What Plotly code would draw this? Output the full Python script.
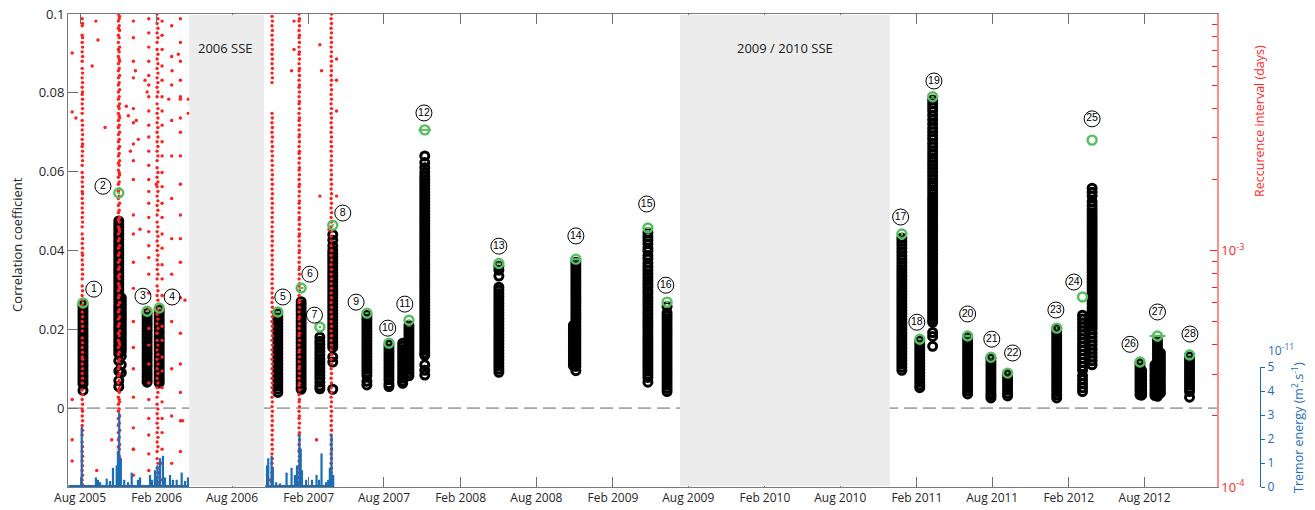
import pandas as pd
import plotly.graph_objects as go

# ---------------- DATA ----------------
# correlation clusters (black circles); values in units of 1e-3
cluster_dates = ["2005-08-08", "2005-11-02", "2005-11-08", "2006-01-09", "2006-02-07", "2006-11-19",
                 "2007-01-14", "2007-02-28", "2007-03-31", "2007-06-21", "2007-08-13", "2007-09-30",
                 "2007-09-15", "2007-11-07", "2008-05-03", "2008-11-04", "2008-10-29", "2009-04-26",
                 "2009-06-11", "2010-12-27", "2011-02-08", "2011-03-11", "2011-06-03", "2011-07-29",
                 "2011-09-07", "2012-01-03", "2012-03-05", "2012-03-28", "2012-07-21", "2012-07-25",
                 "2012-09-01", "2012-08-26", "2012-09-08", "2012-11-17"]
cluster_cc_milli = [
    [26.3, 25.6, 24.8, 24.1, 23.3, 22.6, 21.8, 21.1, 20.3, 19.6, 18.8, 18.1, 17.3, 16.6, 15.8, 15.1, 14.3, 13.6, 12.8, 12.1, 11.3, 10.6, 9.8, 9.1, 8.3, 7.6, 6.8, 6.1, 4.5],
    [47.5, 46.7, 45.9, 45.1, 44.3, 43.6, 42.8, 42.0, 41.2, 40.4, 39.6, 38.9, 38.1, 37.3, 36.5, 35.7, 34.9, 34.2, 33.4, 32.6, 31.8, 31.0, 30.2, 29.5, 28.7, 27.9, 27.1, 26.3, 25.5, 24.8, 24.0, 23.2, 22.4, 21.6, 20.8, 20.1, 19.3, 18.5, 17.7, 16.9, 16.1, 15.4, 14.6, 13.8, 12.0, 9.4, 7.0, 5.5],
    [28.0, 27.2, 26.4, 25.6, 24.8, 24.0, 23.2, 22.4, 21.6, 20.8, 20.0, 19.2, 18.4, 17.6, 16.8, 16.0, 15.2, 14.4, 13.2, 11.0, 9.0],
    [24.0, 23.2, 22.5, 21.7, 21.0, 20.2, 19.5, 18.7, 18.0, 17.2, 16.5, 15.7, 15.0, 14.2, 13.5, 12.7, 12.0, 11.2, 10.5, 9.6, 8.8, 8.0, 7.2, 6.6],
    [25.0, 24.2, 23.5, 22.7, 22.0, 21.2, 20.5, 19.7, 19.0, 18.2, 17.5, 16.7, 16.0, 15.2, 14.5, 13.7, 13.0, 12.2, 11.5, 10.7, 10.0, 9.2, 8.5, 7.7, 7.0, 6.4],
    [24.0, 23.2, 22.4, 21.6, 20.8, 20.0, 19.2, 18.4, 17.6, 16.8, 16.0, 15.2, 14.4, 13.6, 12.8, 12.0, 11.2, 10.4, 9.6, 8.8, 8.0, 7.2, 6.4, 5.6, 4.8, 4.0],
    [27.0, 26.2, 25.4, 24.6, 23.8, 23.0, 22.2, 21.4, 20.6, 19.8, 19.0, 18.2, 17.4, 16.6, 15.8, 15.0, 14.2, 13.4, 12.6, 11.8, 11.0, 10.2, 9.4, 8.6, 7.8, 7.0, 6.2, 5.4, 4.8],
    [18.0, 17.0, 16.2, 15.3, 14.4, 13.6, 12.6, 11.8, 11.0, 10.2, 9.3, 8.4, 7.6, 6.6, 5.6, 4.9],
    [44.0, 42.6, 41.2, 40.0, 39.2, 38.4, 37.6, 36.8, 36.0, 35.2, 34.4, 33.6, 32.8, 32.0, 31.2, 30.4, 29.6, 28.8, 28.0, 27.2, 26.4, 25.6, 24.8, 24.0, 23.2, 22.4, 21.6, 20.8, 20.0, 19.2, 18.4, 17.6, 16.8, 16.0, 15.4, 13.0, 11.7, 4.8],
    [23.5, 22.7, 21.9, 21.1, 20.3, 19.5, 18.7, 17.9, 17.1, 16.3, 15.5, 14.7, 13.9, 13.1, 12.3, 11.5, 10.7, 9.9, 9.1, 8.3, 6.8, 5.9],
    [16.0, 15.2, 14.4, 13.6, 12.8, 12.0, 11.2, 10.4, 9.6, 8.8, 8.0, 7.2, 6.2, 5.5],
    [21.0, 20.2, 19.4, 18.6, 17.8, 17.0, 16.2, 15.4, 14.6, 13.8, 13.0, 12.2, 11.4, 10.6, 9.8, 9.0, 8.2],
    [16.5, 15.7, 14.9, 14.1, 13.3, 12.5, 11.7, 10.9, 10.1, 9.3, 8.5, 7.7, 6.9, 6.3],
    [64.0, 62.3, 61.0, 59.8, 58.8, 58.0, 57.2, 56.4, 55.6, 54.8, 54.0, 53.2, 52.4, 51.6, 50.8, 50.0, 49.2, 48.4, 47.6, 46.8, 46.0, 45.2, 44.4, 43.6, 42.8, 42.0, 41.2, 40.4, 39.6, 38.8, 38.0, 37.2, 36.4, 35.6, 34.8, 34.0, 33.2, 32.4, 31.6, 30.8, 30.0, 29.2, 28.4, 27.6, 26.8, 26.0, 25.2, 24.4, 23.6, 22.8, 22.0, 21.2, 20.4, 19.6, 18.8, 18.0, 17.2, 16.4, 15.6, 14.8, 14.0, 13.4, 11.0, 9.6, 8.4],
    [36.0, 35.0, 33.5, 30.7, 29.9, 29.1, 28.3, 27.5, 26.7, 25.9, 25.1, 24.3, 23.5, 22.7, 21.9, 21.1, 20.3, 19.5, 18.7, 17.9, 17.1, 16.3, 15.5, 14.7, 13.9, 13.1, 12.3, 11.5, 10.7, 9.9, 9.1],
    [37.0, 36.2, 35.4, 34.6, 33.8, 33.0, 32.2, 31.4, 30.6, 29.8, 29.0, 28.2, 27.4, 26.6, 25.8, 25.0, 24.2, 23.4, 22.6, 21.8, 21.0, 20.2, 19.4, 18.6, 17.8, 17.0, 16.2, 15.4, 14.6, 13.8, 13.0, 12.2, 11.4, 10.6, 9.5],
    [21.0, 20.2, 19.4, 18.6, 17.8, 17.0, 16.2, 15.4, 14.6, 13.8, 13.0, 12.2, 11.4, 10.8],
    [44.5, 43.5, 42.6, 41.7, 40.6, 39.8, 38.7, 37.9, 36.8, 35.9, 35.0, 34.1, 33.2, 32.4, 31.5, 30.7, 29.8, 29.0, 28.1, 27.3, 26.4, 25.6, 24.7, 23.9, 23.0, 22.2, 21.4, 20.6, 19.8, 19.0, 18.2, 17.4, 16.6, 15.8, 15.0, 14.2, 13.4, 12.6, 11.8, 11.0, 10.2, 9.4, 8.6, 7.8, 6.6],
    [25.8, 24.2, 23.4, 22.6, 21.8, 21.0, 20.2, 19.4, 18.6, 17.8, 17.0, 16.2, 15.4, 14.6, 13.8, 13.0, 12.2, 11.4, 10.6, 9.8, 9.0, 8.2, 7.4, 6.6, 5.8, 5.0, 4.2],
    [43.2, 42.3, 41.4, 40.5, 39.6, 38.7, 37.8, 36.9, 36.0, 35.2, 34.4, 33.6, 32.8, 32.0, 31.2, 30.4, 29.6, 28.8, 28.0, 27.2, 26.4, 25.6, 24.8, 24.0, 23.2, 22.4, 21.6, 20.8, 20.0, 19.2, 18.4, 17.6, 16.8, 16.0, 15.2, 14.4, 13.6, 12.8, 12.0, 11.2, 10.4, 9.6],
    [17.0, 16.2, 15.4, 14.6, 13.8, 13.0, 12.2, 11.4, 10.6, 9.8, 9.0, 8.2, 7.4, 6.6, 5.8, 5.2],
    [78.2, 77.2, 76.3, 75.4, 74.3, 73.2, 72.0, 71.0, 70.1, 69.1, 68.2, 67.2, 66.3, 65.3, 64.4, 63.5, 62.6, 61.7, 60.8, 59.9, 59.0, 58.1, 57.2, 56.3, 55.4, 54.5, 53.6, 52.8, 52.0, 51.2, 50.4, 49.6, 48.8, 48.0, 47.2, 46.4, 45.6, 44.8, 44.0, 43.2, 42.4, 41.6, 40.8, 40.0, 39.2, 38.4, 37.6, 36.8, 36.0, 35.2, 34.4, 33.6, 32.8, 32.0, 31.2, 30.4, 29.6, 28.8, 28.0, 27.2, 26.4, 25.6, 24.8, 24.0, 23.2, 22.4, 21.8, 19.2, 18.2, 15.7],
    [18.0, 17.2, 16.4, 15.6, 14.8, 14.0, 13.2, 12.4, 11.6, 10.8, 10.0, 9.2, 8.4, 7.6, 6.8, 6.0, 5.2, 4.4, 3.6],
    [12.6, 11.8, 11.0, 10.2, 9.4, 8.6, 7.8, 7.0, 6.2, 5.4, 4.6, 3.8, 3.2, 2.6],
    [8.6, 7.8, 7.0, 6.2, 5.4, 4.6, 3.8, 3.1],
    [20.2, 19.4, 18.6, 17.8, 17.0, 16.2, 15.4, 14.6, 13.8, 13.0, 12.2, 11.4, 10.6, 9.8, 9.0, 8.2, 7.4, 6.6, 5.8, 5.0, 4.2, 3.4, 2.6],
    [23.6, 22.6, 21.6, 20.6, 19.6, 18.6, 17.6, 16.6, 15.6, 14.6, 13.6, 12.6, 11.6, 10.6, 9.6, 8.2, 7.2, 6.2, 5.2, 4.2],
    [55.8, 54.8, 53.8, 52.4, 51.4, 50.5, 49.6, 48.8, 48.0, 47.2, 46.4, 45.6, 44.8, 44.0, 43.2, 42.4, 41.6, 40.8, 40.0, 39.2, 38.4, 37.6, 36.8, 36.0, 35.2, 34.4, 33.6, 32.8, 32.0, 31.2, 30.4, 29.6, 28.8, 28.0, 27.2, 26.4, 25.6, 24.8, 24.0, 23.2, 22.4, 21.6, 20.8, 20.0, 19.0, 18.0, 17.0, 16.0, 15.0, 14.0, 13.0, 12.0, 11.0],
    [11.4, 10.6, 9.8, 9.0, 8.2, 7.4, 6.6, 5.8, 5.0, 4.2, 3.4],
    [9.5, 8.7, 7.9, 7.1, 6.3, 5.5, 4.7, 3.9, 3.3],
    [17.2, 16.4, 15.6, 14.8, 14.0, 13.2, 12.4, 11.6, 10.8, 10.0, 9.2, 8.4, 7.6, 6.8, 6.0, 5.2, 4.4, 3.6, 3.0],
    [11.0, 10.2, 9.4, 8.6, 7.8, 7.0, 6.2, 5.4, 4.6, 3.8, 3.2],
    [14.0, 13.2, 12.4, 11.6, 10.8, 10.0, 9.2, 8.4, 7.6, 6.8, 6.0, 5.2, 4.4, 3.8],
    [13.0, 12.2, 11.4, 10.6, 9.8, 9.0, 8.2, 7.4, 6.6, 5.8, 5.0, 4.2, 2.8],
]

# family maxima (green) and labels
family_numbers = list(range(1, 29))
family_dates = ["2005-08-08", "2005-11-02", "2006-01-09", "2006-02-07", "2006-11-19", "2007-01-14",
                "2007-02-28", "2007-03-31", "2007-06-21", "2007-08-13", "2007-09-30", "2007-11-07",
                "2008-05-03", "2008-11-04", "2009-04-26", "2009-06-11", "2010-12-27", "2011-02-08",
                "2011-03-11", "2011-06-03", "2011-07-29", "2011-09-07", "2012-01-03", "2012-03-05",
                "2012-03-28", "2012-07-21", "2012-09-01", "2012-11-17"]
green_cc_milli = [26.7, 54.6, 24.6, 25.4, 24.4, 30.5, 20.6, 46.4, 24.1, 16.5, 22.3, 70.6, 36.7, 37.8,
                  45.7, 26.9, 44.2, 17.5, 79.0, 18.3, 12.9, 8.9, 20.3, 28.2, 68.0, 11.7, 18.3, 13.5]
green_err_days = [3, 3, 4, 4, 6, 6, 3, 3, 4, 3, 3, 15, 6, 13, 6, 4, 3, 4, 3, 7, 3, 2, 2, 0, 0, 3, 19, 4]
label_dates = ["2005-09-03", "2005-09-25", "2005-12-30", "2006-03-10", "2006-12-01", "2007-02-04",
               "2007-02-15", "2007-04-24", "2007-05-26", "2007-08-10", "2007-09-20", "2007-11-05",
               "2008-05-03", "2008-11-04", "2009-04-23", "2009-06-08", "2010-12-24", "2011-02-01",
               "2011-03-14", "2011-06-03", "2011-07-31", "2011-09-19", "2012-01-01", "2012-02-13",
               "2012-03-28", "2012-06-27", "2012-09-01", "2012-11-18"]
label_cc_milli = [30.2, 56.3, 28.4, 28.2, 28.2, 34.0, 23.6, 49.5, 26.9, 20.3, 26.4, 74.9, 41.1, 43.7,
                  51.8, 31.2, 48.5, 21.8, 83.0, 23.9, 17.5, 14.0, 24.9, 32.0, 73.4, 16.2, 24.4, 18.8]

# recurrence intervals (red), log10(days)
red_streak_dates = ["2005-08-06", "2005-11-01", "2005-11-04", "2005-12-07", "2006-01-13", "2006-02-02",
                    "2006-02-14", "2006-03-09", "2006-03-30", "2006-11-05", "2007-01-09", "2007-03-27",
                    "2005-08-07", "2005-11-03", "2006-02-04", "2006-11-06", "2007-01-10", "2007-03-28"]
red_streak_log10 = [
    [-2.02, -2.05, -2.09, -2.12, -2.16, -2.2, -2.23, -2.27, -2.31, -2.34, -2.38, -2.42, -2.45, -2.49, -2.53, -2.56, -2.6, -2.64, -2.67, -2.71, -2.75, -2.78, -2.82, -2.86, -2.9, -2.93, -2.97, -3.01, -3.04, -3.08, -3.12, -3.15, -3.19, -3.23, -3.26, -3.3, -3.34, -3.37, -3.41, -3.45, -3.48, -3.52, -3.56, -3.59, -3.63, -3.67, -3.7, -3.74, -3.78, -3.81, -3.85, -3.89, -3.93, -3.97],
    [-2.0, -2.03, -2.06, -2.09, -2.12, -2.15, -2.18, -2.21, -2.24, -2.27, -2.3, -2.33, -2.36, -2.39, -2.42, -2.45, -2.48, -2.51, -2.54, -2.57, -2.6, -2.63, -2.66, -2.69, -2.72, -2.75, -2.78, -2.81, -2.84, -2.87, -2.9, -2.93, -2.96, -2.99, -3.02, -3.05, -3.08, -3.11, -3.14, -3.17, -3.2, -3.23, -3.26, -3.29, -3.32, -3.35, -3.38, -3.41, -3.44, -3.47, -3.5, -3.53, -3.56, -3.59, -3.62, -3.65, -3.68, -3.71, -3.74, -3.77, -3.8, -3.83, -3.86, -3.89, -3.92, -3.95, -3.98],
    [-2.01, -2.07, -2.14, -2.2, -2.26, -2.32, -2.38, -2.44, -2.5, -2.56, -2.62, -2.68, -2.74, -2.8, -2.86, -2.92, -2.98, -3.04, -3.1, -3.16, -3.22, -3.28, -3.34, -3.4, -3.46, -3.52, -3.58, -3.64, -3.7, -3.76, -3.82, -3.88, -3.94, -3.99],
    [-2.03, -2.1, -2.2, -2.27, -2.4, -2.46, -2.55, -2.62, -2.7, -2.85, -2.93, -3.05, -3.16, -3.3, -3.41, -3.5, -3.62, -3.75, -3.84, -3.95],
    [-2.02, -2.08, -2.14, -2.2, -2.26, -2.3, -2.35, -2.41, -2.47, -2.52, -2.58, -2.64, -2.7, -2.75, -2.8, -2.86, -2.92, -2.98, -3.03, -3.1, -3.18, -3.25, -3.33, -3.4, -3.48, -3.56, -3.63, -3.71, -3.78, -3.86, -3.93],
    [-2.0, -2.04, -2.08, -2.12, -2.15, -2.19, -2.23, -2.27, -2.31, -2.35, -2.38, -2.42, -2.46, -2.5, -2.54, -2.58, -2.62, -2.65, -2.69, -2.73, -2.77, -2.81, -2.85, -2.88, -2.92, -2.96, -3.0, -3.04, -3.08, -3.12, -3.15, -3.19, -3.23, -3.27, -3.31, -3.35, -3.38, -3.42, -3.46, -3.5, -3.54, -3.58, -3.62, -3.65, -3.69, -3.73, -3.77, -3.81, -3.85, -3.88, -3.92, -3.96, -3.99],
    [-2.03, -2.09, -2.15, -2.22, -2.28, -2.35, -2.41, -2.47, -2.54, -2.6, -2.67, -2.73, -2.8, -2.86, -2.93, -2.99, -3.06, -3.12, -3.19, -3.25, -3.32, -3.38, -3.45, -3.51, -3.58, -3.64, -3.71, -3.77, -3.84, -3.9, -3.97],
    [-2.05, -2.18, -2.3, -2.45, -2.6, -2.78, -2.95, -3.1, -3.3, -3.5, -3.7, -3.9],
    [-2.02, -2.12, -2.2, -2.28, -2.35, -2.44, -2.5, -2.6, -2.72, -2.85, -2.95, -3.05, -3.2, -3.35, -3.48, -3.6, -3.72, -3.85],
    [-2.01, -2.05, -2.09, -2.13, -2.17, -2.21, -2.25, -2.29, -2.42, -2.46, -2.5, -2.54, -2.58, -2.62, -2.66, -2.7, -2.74, -2.78, -2.82, -2.86, -2.9, -2.94, -2.98, -3.02, -3.06, -3.1, -3.14, -3.18, -3.22, -3.26, -3.3, -3.34, -3.38, -3.42, -3.46, -3.5, -3.54, -3.58, -3.62, -3.66, -3.7, -3.74, -3.78, -3.82, -3.86, -3.9, -3.94, -3.98],
    [-2.0, -2.03, -2.07, -2.1, -2.14, -2.17, -2.21, -2.24, -2.28, -2.31, -2.35, -2.38, -2.42, -2.45, -2.49, -2.52, -2.56, -2.59, -2.63, -2.66, -2.7, -2.73, -2.77, -2.8, -2.84, -2.87, -2.91, -2.94, -2.98, -3.01, -3.05, -3.08, -3.12, -3.15, -3.19, -3.22, -3.26, -3.29, -3.33, -3.36, -3.4, -3.43, -3.47, -3.5, -3.54, -3.57, -3.61, -3.64, -3.68, -3.71, -3.75, -3.78, -3.82, -3.85, -3.89, -3.92, -3.96, -3.99],
    [-2.02, -2.06, -2.1, -2.14, -2.18, -2.22, -2.26, -2.3, -2.34, -2.38, -2.42, -2.46, -2.5, -2.54, -2.58, -2.62, -2.66, -2.7, -2.74, -2.78, -2.82, -2.86, -2.9, -2.94, -2.98, -3.02, -3.06, -3.1, -3.14, -3.18, -3.22, -3.26, -3.3, -3.34, -3.38, -3.42, -3.46, -3.5, -3.54, -3.58, -3.62, -3.66, -3.7, -3.74, -3.78, -3.82, -3.86, -3.9, -3.94, -3.98],
    [-2.04, -2.1, -2.14, -2.18, -2.25, -2.29, -2.33, -2.36, -2.4, -2.47, -2.51, -2.55, -2.58, -2.62, -2.69, -2.73, -2.76, -2.8, -2.84, -2.88, -2.95, -2.99, -3.02, -3.06, -3.1, -3.17, -3.21, -3.24, -3.28, -3.32, -3.39, -3.43, -3.46, -3.5, -3.54, -3.61, -3.65, -3.68, -3.72, -3.76, -3.83, -3.87, -3.91, -3.95, -3.99],
    [-2.02, -2.05, -2.1, -2.16, -2.19, -2.23, -2.29, -2.35, -2.4, -2.43, -2.47, -2.53, -2.59, -2.64, -2.67, -2.71, -2.77, -2.83, -2.88, -2.91, -2.95, -3.01, -3.07, -3.12, -3.15, -3.19, -3.25, -3.31, -3.36, -3.39, -3.43, -3.49, -3.55, -3.6, -3.63, -3.67, -3.73, -3.79, -3.84, -3.87, -3.91, -3.97],
    [-2.02, -2.06, -2.1, -2.17, -2.21, -2.25, -2.29, -2.33, -2.4, -2.44, -2.48, -2.52, -2.56, -2.6, -2.67, -2.71, -2.75, -2.79, -2.83, -2.9, -2.94, -2.98, -3.02, -3.06, -3.1, -3.17, -3.21, -3.25, -3.29, -3.33, -3.4, -3.44, -3.48, -3.52, -3.56, -3.6, -3.67, -3.71, -3.75, -3.79, -3.83, -3.9, -3.94, -3.98],
    [-2.03, -2.07, -2.11, -2.15, -2.19, -2.23, -2.27, -2.44, -2.48, -2.52, -2.56, -2.6, -2.64, -2.68, -2.72, -2.76, -2.8, -2.84, -2.88, -2.92, -2.96, -3.0, -3.04, -3.08, -3.12, -3.16, -3.2, -3.24, -3.28, -3.32, -3.36, -3.4, -3.44, -3.48, -3.52, -3.56, -3.6, -3.64, -3.68, -3.72, -3.76, -3.8, -3.84, -3.88, -3.92, -3.96],
    [-2.02, -2.05, -2.09, -2.12, -2.16, -2.19, -2.23, -2.26, -2.3, -2.33, -2.37, -2.4, -2.44, -2.47, -2.51, -2.54, -2.58, -2.61, -2.65, -2.68, -2.72, -2.75, -2.79, -2.82, -2.86, -2.89, -2.93, -2.96, -3.0, -3.03, -3.07, -3.1, -3.14, -3.17, -3.21, -3.24, -3.28, -3.31, -3.35, -3.38, -3.42, -3.45, -3.49, -3.52, -3.56, -3.59, -3.63, -3.66, -3.7, -3.73, -3.77, -3.8, -3.84, -3.87, -3.91, -3.94, -3.98],
    [-2.0, -2.04, -2.08, -2.12, -2.16, -2.2, -2.24, -2.28, -2.32, -2.36, -2.4, -2.44, -2.48, -2.52, -2.56, -2.6, -2.64, -2.68, -2.72, -2.76, -2.8, -2.84, -2.88, -2.92, -2.96, -3.0, -3.04, -3.08, -3.12, -3.16, -3.2, -3.24, -3.28, -3.32, -3.36, -3.4, -3.44, -3.48, -3.52, -3.56, -3.6, -3.64, -3.68, -3.72, -3.76, -3.8, -3.84, -3.88, -3.92, -3.96, -4.0],
]
red_scatter_dates = ["2005-07-13", "2005-07-13", "2005-07-22", "2005-07-13", "2005-07-13", "2005-07-13",
                     "2005-09-08", "2005-09-13", "2005-08-30", "2005-09-30", "2005-11-20", "2005-11-25",
                     "2005-11-30", "2005-12-12", "2005-12-14", "2005-12-19", "2005-12-23", "2006-01-04",
                     "2006-01-09", "2006-01-31", "2006-03-02", "2006-03-10", "2006-03-25", "2006-03-30",
                     "2006-04-18", "2006-04-18", "2006-04-10", "2006-04-04", "2005-09-10", "2005-10-16",
                     "2005-12-07", "2006-12-28", "2006-12-28", "2006-12-22", "2007-02-28", "2007-03-04",
                     "2007-02-28", "2007-04-09", "2007-04-09", "2007-04-09", "2007-04-09", "2007-03-22",
                     "2006-11-01", "2007-02-20"]
red_scatter_log10 = [-2.165, -2.414, -2.44, -3.63, -3.80, -3.89,
                     -2.03, -2.11, -2.22, -2.48, -2.39, -2.43,
                     -2.58, -2.24, -2.45, -2.53, -2.91, -2.28,
                     -2.33, -2.72, -2.36, -2.24, -2.17, -2.36,
                     -2.36, -2.42, -3.21, -3.72, -3.93, -3.80,
                     -3.84, -2.03, -2.15, -2.24, -2.13, -2.24,
                     -2.77, -2.19, -2.28, -2.41, -2.77, -2.91,
                     -3.97, -3.80]

# tremor energy (blue), units of 1e-11 m^2 s^-1
tremor_periods = [("2005-07-04", "2006-04-19"), ("2006-10-20", "2007-04-02")]
tremor_dates = ["2005-08-05", "2005-09-08", "2005-09-13", "2005-09-18", "2005-10-04", "2005-10-12",
                "2005-10-19", "2005-10-28", "2005-10-31", "2005-11-03", "2005-11-07", "2005-11-15",
                "2005-11-24", "2005-12-03", "2005-12-18", "2005-12-23", "2006-01-16", "2006-01-21",
                "2006-01-28", "2006-02-03", "2006-02-09", "2006-02-16", "2006-02-21", "2006-03-05",
                "2006-03-12", "2006-03-21", "2006-04-02", "2006-04-10", "2006-04-17",
                "2006-10-24", "2006-10-27", "2006-11-04", "2006-11-07", "2006-11-15", "2006-11-24",
                "2006-12-10", "2006-12-22", "2006-12-30", "2007-01-04", "2007-01-10", "2007-01-13",
                "2007-01-16", "2007-01-26", "2007-02-09", "2007-02-20", "2007-02-26", "2007-03-04",
                "2007-03-15", "2007-03-20", "2007-03-24", "2007-03-28", "2007-04-01"]
tremor_vals = [2.5, 0.4, 0.3, 0.2, 0.35, 0.25,
               0.8, 0.9, 1.5, 3.1, 1.2, 0.3,
               0.2, 0.6, 0.3, 0.4, 0.5, 0.3,
               0.7, 0.9, 1.2, 1.3, 0.4, 0.5,
               0.3, 0.3, 0.6, 0.25, 0.4,
               0.9, 1.2, 1.3, 0.8, 0.2, 0.15,
               0.6, 0.8, 0.5, 0.9, 2.2, 1.6,
               0.7, 0.3, 0.3, 0.5, 0.3, 1.4,
               0.2, 0.3, 0.8, 2.2, 0.5]

sse_periods = [("2006-04-20", "2006-10-17", "2006 SSE", "2006-07-17"),
               ("2009-07-12", "2010-11-28", "2009 / 2010 SSE", "2010-03-21")]

x_tick_dates = ["2005-08-01", "2006-02-01", "2006-08-01", "2007-02-01", "2007-08-01", "2008-02-01",
                "2008-08-01", "2009-02-01", "2009-08-01", "2010-02-01", "2010-08-01", "2011-02-01",
                "2011-08-01", "2012-02-01", "2012-08-01"]
x_tick_labels = ["Aug 2005", "Feb 2006", "Aug 2006", "Feb 2007", "Aug 2007", "Feb 2008", "Aug 2008",
                 "Feb 2009", "Aug 2009", "Feb 2010", "Aug 2010", "Feb 2011", "Aug 2011", "Feb 2012",
                 "Aug 2012"]

# ---------------- FIGURE ----------------
FONT = "Open Sans"
GREEN = "#55bf5f"
RED = "#ff1f1f"
BLUE = "#1c6db5"
fig = go.Figure()

# black clusters
bx, by = [], []
for d, vals in zip(cluster_dates, cluster_cc_milli):
    for v in vals:
        bx.append(d)
        by.append(v / 1000.0)
fig.add_trace(go.Scatter(x=bx, y=by, mode="markers", yaxis="y",
                         marker=dict(symbol="circle-open", size=8, color="black",
                                     line=dict(width=3, color="black")),
                         showlegend=False, hoverinfo="skip"))

# tremor energy stems
for start, end in tremor_periods:
    fig.add_trace(go.Scatter(x=[start, end], y=[0.04, 0.04], mode="lines", yaxis="y3",
                             line=dict(color=BLUE, width=2), showlegend=False, hoverinfo="skip"))
tx, ty = [], []
for d, v in zip(tremor_dates, tremor_vals):
    tx += [d, d, None]
    ty += [0, v, None]
fig.add_trace(go.Scatter(x=tx, y=ty, mode="lines", yaxis="y3",
                         line=dict(color=BLUE, width=2.2), showlegend=False, hoverinfo="skip"))

# red recurrence intervals
rx, ry = [], []
for d, vals in zip(red_streak_dates, red_streak_log10):
    for v in vals:
        rx.append(d)
        ry.append(10 ** v)
for d, v in zip(red_scatter_dates, red_scatter_log10):
    rx.append(d)
    ry.append(10 ** v)
fig.add_trace(go.Scatter(x=rx, y=ry, mode="markers", yaxis="y2",
                         marker=dict(symbol="circle", size=3.4, color=RED),
                         showlegend=False, hoverinfo="skip"))

# green maxima with horizontal bars
gx, gy = [], []
for d, v, e in zip(family_dates, green_cc_milli, green_err_days):
    if e > 0:
        t = pd.Timestamp(d)
        gx += [t - pd.Timedelta(days=e), t + pd.Timedelta(days=e), None]
        gy += [v / 1000.0, v / 1000.0, None]
fig.add_trace(go.Scatter(x=gx, y=gy, mode="lines", yaxis="y4",
                         line=dict(color=GREEN, width=2), showlegend=False, hoverinfo="skip"))
fig.add_trace(go.Scatter(x=family_dates, y=[v / 1000.0 for v in green_cc_milli], mode="markers",
                         yaxis="y4",
                         marker=dict(symbol="circle-open", size=9, color=GREEN,
                                     line=dict(width=2.4, color=GREEN)),
                         showlegend=False, hoverinfo="skip"))

# circled family labels
fig.add_trace(go.Scatter(x=label_dates, y=[v / 1000.0 for v in label_cc_milli],
                         mode="markers+text", yaxis="y4",
                         text=[str(n) for n in family_numbers], textposition="middle center",
                         textfont=dict(family="Liberation Sans", size=10.5, color="black"),
                         marker=dict(symbol="circle-open", size=16, color="black",
                                     line=dict(width=1, color="black")),
                         showlegend=False, hoverinfo="skip"))

shapes = [dict(type="line", xref="x", x0="2005-07-03", x1="2013-01-22", yref="y", y0=0, y1=0,
               layer="below", line=dict(color="#a6a6a6", width=1.6, dash="13px,6px"))]
annotations = []
for s, e, lab, mid in sse_periods:
    shapes.append(dict(type="rect", xref="x", x0=s, x1=e, yref="paper", y0=0.002, y1=0.998,
                       fillcolor="#ececec", line=dict(width=0), layer="above"))
    annotations.append(dict(x=mid, xref="x", y=0.928, yref="paper", text=lab, showarrow=False,
                            xanchor="center", yanchor="middle",
                            font=dict(family=FONT, size=13, color="#222222")))

annotations += [
    dict(x=-0.0409, y=0.514, xref="paper", yref="paper", text="Correlation coefficient",
         textangle=-90, showarrow=False, xanchor="center", yanchor="middle",
         font=dict(family=FONT, size=13, color="#262626")),
    dict(x=0.9559, y=0.774, xref="paper", yref="paper", text="Reccurence interval (days)",
         textangle=-90, showarrow=False, xanchor="center", yanchor="middle",
         font=dict(family=FONT, size=12.5, color=RED)),
    dict(x=0.9864, y=0.125, xref="paper", yref="paper",
         text="Tremor energy (m<sup>2</sup>.s<sup>-1</sup>)",
         textangle=-90, showarrow=False, xanchor="center", yanchor="middle",
         font=dict(family=FONT, size=12.5, color=BLUE)),
    dict(x=0.9727, y=0.29, xref="paper", yref="paper", text="10<sup>-11</sup>",
         showarrow=False, xanchor="center", yanchor="middle",
         font=dict(family=FONT, size=12, color=BLUE)),
]

XEND = 1149 / 1247
fig.update_layout(
    width=1315, height=510,
    margin=dict(l=68, r=0, t=14, b=23),
    paper_bgcolor="white", plot_bgcolor="rgba(0,0,0,0)",
    font=dict(family=FONT, size=12, color="#262626"),
    shapes=shapes, annotations=annotations,
    xaxis=dict(type="date", domain=[0, XEND], range=["2005-07-03", "2013-01-22"],
               tickmode="array", tickvals=x_tick_dates, ticktext=x_tick_labels,
               ticks="inside", ticklen=10, tickcolor="#6e6e6e", showline=True,
               linecolor="#7a7a7a", linewidth=1, mirror="ticks", showgrid=False, zeroline=False,
               tickfont=dict(family=FONT, size=12, color="#262626")),
    yaxis=dict(range=[-0.02, 0.1], tickmode="array",
               tickvals=[0, 0.02, 0.04, 0.06, 0.08, 0.1],
               ticktext=["0", "0.02", "0.04", "0.06", "0.08", "0.1"],
               ticks="inside", ticklen=10, tickcolor="#6e6e6e", showline=True,
               linecolor="#7a7a7a", linewidth=1, showgrid=False, zeroline=False,
               tickfont=dict(family=FONT, size=13, color="#262626")),
    yaxis2=dict(type="log", range=[-4, -2], overlaying="y", side="right", anchor="x",
                tickmode="array", tickvals=[1e-4, 1e-3, 1e-2],
                ticktext=["10<sup>-4</sup>", "10<sup>-3</sup>", ""],
                ticks="inside", ticklen=7, tickcolor=RED, tickwidth=1.2,
                showline=True, linecolor="#ff8c8c", linewidth=1.5, showgrid=False,
                zeroline=False, tickfont=dict(family=FONT, size=13, color=RED),
                minor=dict(tickmode="array",
                           tickvals=[2e-4, 3e-4, 4e-4, 5e-4, 6e-4, 7e-4, 8e-4, 9e-4,
                                     2e-3, 3e-3, 4e-3, 5e-3, 6e-3, 7e-3, 8e-3, 9e-3],
                           ticks="inside", ticklen=5, tickcolor=RED, showgrid=False)),
    yaxis3=dict(range=[0, 5], domain=[0, 120 / 473], anchor="free", position=(1260 - 68) / 1247,
                side="right", tickmode="array", tickvals=[0, 1, 2, 3, 4, 5],
                ticks="outside", ticklen=4, tickcolor=BLUE, showline=True, linecolor=BLUE,
                linewidth=1.2, showgrid=False, zeroline=False,
                tickfont=dict(family=FONT, size=12, color=BLUE)),
    yaxis4=dict(range=[-0.02, 0.1], overlaying="y", visible=False),
)

fig.write_html("out.html")
